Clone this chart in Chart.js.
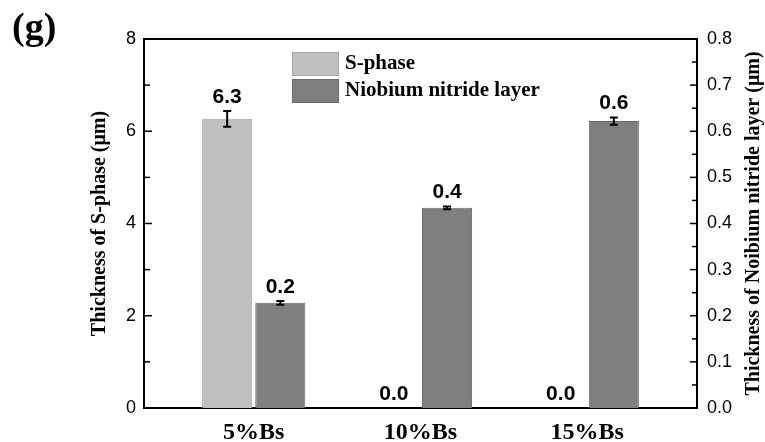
<!DOCTYPE html>
<html>
<head>
    <title>Thickness of S-phase and niobium nitride layer</title>
    <script src="https://cdn.jsdelivr.net/npm/chart.js"></script>
    <style>
        html, body { margin: 0; padding: 0; background: #fff; }
        #wrap { width: 765px; height: 442px; }
    </style>
</head>
<body>
<div id="wrap"><canvas id="thk" width="765" height="442"></canvas></div>
<script>
// values
const categories = ['5%Bs', '10%Bs', '15%Bs'];
const sPhase = [6.27, 0, 0];
const sPhaseErr = [0.17, 0, 0];
const nitride = [0.228, 0.434, 0.622];
const nitrideErr = [0.004, 0.003, 0.008];
const leftTicks = [0, 2, 4, 6, 8];
const rightTicks = [0, 0.1, 0.2, 0.3, 0.4, 0.5, 0.6, 0.7, 0.8];
const rightTitle = 'Thickness of Noibium nitride layer (μm)';

const LIGHT = '#bfbfbf', DARK = '#7f7f7f';
const serifBold = '"Liberation Serif", "Times New Roman", serif';

Chart.defaults.font.family = '"Liberation Sans", Arial, sans-serif';
Chart.defaults.color = '#000';

// inward ticks, top frame line, error bars, value labels, legend, panel letter
const decor = {
    id: 'decor',
    afterDatasetsDraw(chart) {
        const ctx = chart.ctx;
        const a = chart.chartArea;
        const y = chart.scales.y, y1 = chart.scales.y1;
        ctx.save();
        ctx.strokeStyle = '#000';
        ctx.lineWidth = 2;
        ctx.beginPath();
        ctx.moveTo(a.left - 1, a.top);
        ctx.lineTo(a.right + 1, a.top);
        ctx.stroke();

        ctx.lineWidth = 1.5;
        for (let v = 0; v <= 8; v++) {
            const py = y.getPixelForValue(v);
            ctx.beginPath();
            ctx.moveTo(a.left, py);
            ctx.lineTo(a.left + (v % 2 === 0 ? 8 : 6), py);
            ctx.stroke();
        }
        for (let k = 0; k <= 16; k++) {
            const py = y1.getPixelForValue(k * 0.05);
            ctx.beginPath();
            ctx.moveTo(a.right, py);
            ctx.lineTo(a.right - (k % 2 === 0 ? 7 : 5), py);
            ctx.stroke();
        }

        // error bars + labels
        chart.data.datasets.forEach((ds, di) => {
            const meta = chart.getDatasetMeta(di);
            const sc = chart.scales[ds.yAxisID];
            meta.data.forEach((bar, i) => {
                const v = ds.values[i], e = ds.errs[i];
                let top = sc.getPixelForValue(v);
                if (e > 0) {
                    const hi = sc.getPixelForValue(v + e), lo = sc.getPixelForValue(v - e);
                    ctx.lineWidth = 2;
                    ctx.beginPath();
                    ctx.moveTo(bar.x, hi); ctx.lineTo(bar.x, lo);
                    ctx.moveTo(bar.x - 4, hi); ctx.lineTo(bar.x + 4, hi);
                    ctx.moveTo(bar.x - 4, lo); ctx.lineTo(bar.x + 4, lo);
                    ctx.stroke();
                    top = hi;
                }
                ctx.fillStyle = '#000';
                ctx.font = 'bold 21px "Liberation Sans", Arial, sans-serif';
                ctx.textAlign = 'center';
                ctx.textBaseline = 'alphabetic';
                ctx.fillText(v.toFixed(1), bar.x, top - 8);
            });
        });

        // legend
        const lx = a.left + 148, ly = a.top + 13;
        chart.data.datasets.forEach((ds, di) => {
            const by = ly + di * 27;
            ctx.fillStyle = ds.backgroundColor;
            ctx.fillRect(lx, by, 47, 24);
            ctx.strokeStyle = ds.borderColor;
            ctx.lineWidth = 1;
            ctx.strokeRect(lx + 0.5, by + 0.5, 46, 23);
            ctx.fillStyle = '#000';
            ctx.font = 'bold 21px ' + serifBold;
            ctx.textAlign = 'left';
            ctx.textBaseline = 'middle';
            ctx.fillText(ds.label, lx + 53, by + 12);
        });

        // right axis title, reading bottom to top
        ctx.save();
        ctx.translate(754, (a.top + a.bottom) / 2);
        ctx.rotate(-Math.PI / 2);
        ctx.font = 'bold 20px ' + serifBold;
        ctx.textAlign = 'center';
        ctx.textBaseline = 'middle';
        ctx.fillText(rightTitle, 0, 0);
        ctx.restore();

        ctx.font = 'bold 38px ' + serifBold;
        ctx.textAlign = 'left';
        ctx.textBaseline = 'top';
        ctx.fillText('(g)', 12, 10);
        ctx.restore();
    }
};

new Chart(document.getElementById('thk'), {
    type: 'bar',
    data: {
        datasets: [{
            label: 'S-phase',
            data: categories.map((c, i) => ({ x: i, y: sPhase[i] })),
            values: sPhase,
            errs: sPhaseErr,
            yAxisID: 'y',
            backgroundColor: LIGHT,
            borderColor: '#a5a5a5',
            borderWidth: 1
        }, {
            label: 'Niobium nitride layer',
            data: categories.map((c, i) => ({ x: i, y: nitride[i] })),
            values: nitride,
            errs: nitrideErr,
            yAxisID: 'y1',
            backgroundColor: DARK,
            borderColor: '#6a6a6a',
            borderWidth: 1
        }]
    },
    options: {
        responsive: false,
        animation: false,
        categoryPercentage: 0.637,
        barPercentage: 0.943,
        layout: { padding: { left: 78, top: 39, right: 0, bottom: 0 } },
        plugins: { legend: { display: false }, tooltip: { enabled: false } },
        scales: {
            x: {
                type: 'linear',
                offset: false,
                min: -0.658,
                max: 2.658,
                grid: { display: false, offset: false },
                border: { display: true, color: '#000', width: 2 },
                afterBuildTicks: s => { s.ticks = categories.map((c, i) => ({ value: i })); },
                afterFit: s => { s.height = 34; },
                ticks: {
                    autoSkip: false,
                    maxRotation: 0,
                    padding: 2,
                    font: { family: serifBold, weight: 'bold', size: 24 },
                    callback: v => categories[v] || ''
                }
            },
            y: {
                position: 'left',
                min: 0,
                max: 8,
                grid: { display: false },
                border: { display: true, color: '#000', width: 2 },
                afterBuildTicks: s => { s.ticks = leftTicks.map(v => ({ value: v })); },
                afterFit: s => { s.width = 66; },
                ticks: { padding: 0, font: { size: 18 } },
                title: {
                    display: true,
                    text: 'Thickness of S-phase (μm)',
                    font: { family: serifBold, weight: 'bold', size: 20 },
                    padding: { top: 10, bottom: 0 }
                }
            },
            y1: {
                position: 'right',
                min: 0,
                max: 0.8,
                grid: { display: false },
                border: { display: true, color: '#000', width: 2 },
                afterBuildTicks: s => { s.ticks = rightTicks.map(v => ({ value: v })); },
                afterFit: s => { s.width = 68; },
                ticks: { padding: 2, font: { size: 18 }, callback: v => Number(v).toFixed(1) }
            }
        }
    },
    plugins: [decor]
});
</script>
</body>
</html>
